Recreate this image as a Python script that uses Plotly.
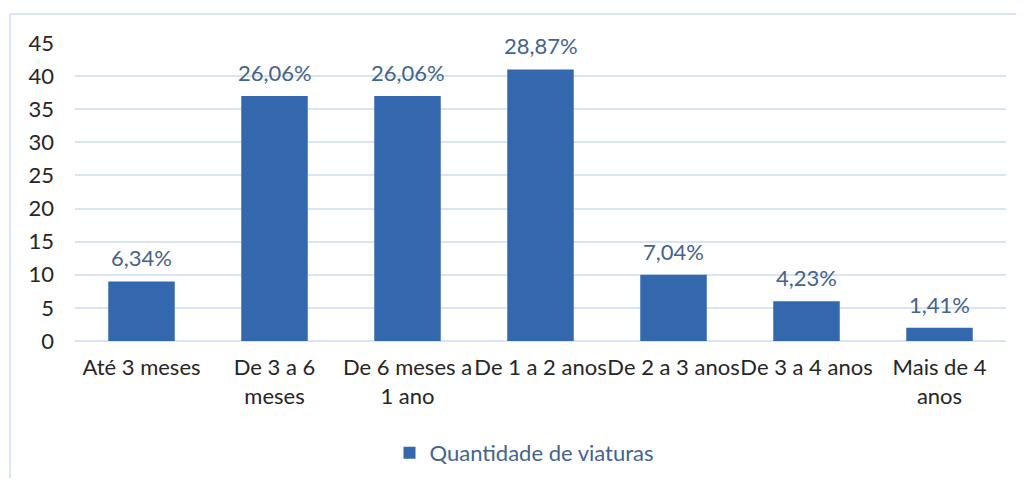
import plotly.graph_objects as go

categories = ["Até 3 meses", "De 3 a 6<br>meses", "De 6 meses a<br>1 ano", "De 1 a 2 anos",
              "De 2 a 3 anos", "De 3 a 4 anos", "Mais de 4<br>anos"]
values = [9, 37, 37, 41, 10, 6, 2]
labels = ["6,34%", "26,06%", "26,06%", "28,87%", "7,04%", "4,23%", "1,41%"]
series_name = "Quantidade de viaturas"
y_ticks = [0, 5, 10, 15, 20, 25, 30, 35, 40, 45]

FONT = "Lato, Carlito, Calibri, sans-serif"
FS = 22
LABEL_COLOR = "#44638f"
GRID = "#d9e5f4"

fig = go.Figure()
fig.add_trace(go.Bar(
    x=categories, y=values, name=series_name,
    marker=dict(color="#3468ae", line=dict(width=0)),
    showlegend=True,
))

for c, v, t in zip(categories, values, labels):
    fig.add_annotation(x=c, y=v, text=t, showarrow=False, yanchor="bottom",
                       yshift=8, font=dict(family=FONT, size=FS, color=LABEL_COLOR))

# page body has an 8px margin on every side
OFF = 8
W, H = 1024 - OFF, 486 - 2 * OFF
ml, mr, mt = 75 - OFF, 18, 43 - OFF
mb = H - (341 - OFF)
pw, ph = W - ml - mr, H - mt - mb
fx0 = (10 - OFF - ml) / pw
fx1 = (W + 40 - ml) / pw
fy0 = -(mb + 40) / ph
fy1 = 1 + (mt - (14 - OFF)) / ph
# chart-area frame: only top and left edges fall inside the picture
fig.add_shape(type="line", xref="paper", yref="paper", x0=fx0, x1=fx1, y0=fy1, y1=fy1,
              line=dict(color=GRID, width=2), layer="below")
fig.add_shape(type="line", xref="paper", yref="paper", x0=fx0, x1=fx0, y0=fy0, y1=fy1,
              line=dict(color=GRID, width=2), layer="below")

fig.update_layout(
    width=W, height=H,
    margin=dict(l=ml, r=mr, t=mt, b=mb, autoexpand=False),
    paper_bgcolor="white", plot_bgcolor="white",
    bargap=0.5,
    font=dict(family=FONT, size=FS, color="#262626"),
    xaxis=dict(showgrid=False, showline=False, ticks="", ticklabelstandoff=11, automargin=False,
               tickangle=0, tickfont=dict(size=FS, color="#262626")),
    yaxis=dict(range=[0, 45], tickvals=y_ticks, showgrid=True, gridcolor=GRID, gridwidth=2,
               zeroline=True, zerolinecolor=GRID, zerolinewidth=2, showline=False, automargin=False,
               ticks="", ticklabelstandoff=20, tickfont=dict(size=FS, color="#262626")),
    legend=dict(orientation="h", x=0.5 - 16 / pw, xanchor="center", y=-(453 - 341) / ph,
                yanchor="middle", font=dict(family=FONT, size=FS, color=LABEL_COLOR), itemwidth=30),
)

fig.write_html("out.html")
